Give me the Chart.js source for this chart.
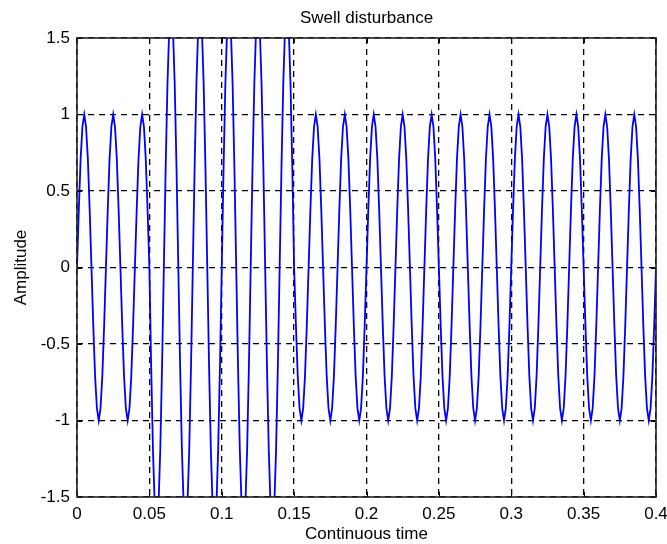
<!DOCTYPE html>
<html>
<head>
<meta charset="utf-8">
<script src="https://cdn.jsdelivr.net/npm/chart.js@4/dist/chart.umd.min.js"></script>
<style>
html,body{margin:0;padding:0;background:#fff;}
#wrap{width:667px;height:544px;}
</style>
</head>
<body>
<div id="wrap"><canvas id="c" width="667" height="544"></canvas></div>
<script>
// ---- data ----
const sampleStep = 0.00125; // seconds between samples
// normal waveform before the swell (t = 0 ... 0.04875)
const preSwell = [
  0,.38,.71,.92,1,.92,.71,.38,0,-.38,-.71,-.92,-1,-.92,-.71,-.38,
  0,.38,.71,.92,1,.92,.71,.38,0,-.38,-.71,-.92,-1,-.92,-.71,-.38,
  0,.38,.71,.92,1,.92,.71,.38
];
// swell (t = 0.05 ... 0.14875), amplitude about 1.7 (clipped by the axes)
const swell = [
  0,-.65,-1.2,-1.57,-1.7,-1.57,-1.2,-.65,
  0,.65,1.2,1.57,1.7,1.57,1.2,.65,0,-.65,-1.2,-1.57,-1.7,-1.57,-1.2,-.65,
  0,.65,1.2,1.57,1.7,1.57,1.2,.65,0,-.65,-1.2,-1.57,-1.7,-1.57,-1.2,-.65,
  0,.65,1.2,1.57,1.7,1.57,1.2,.65,0,-.65,-1.2,-1.57,-1.7,-1.57,-1.2,-.65,
  0,.65,1.2,1.57,1.7,1.57,1.2,.65,0,-.65,-1.2,-1.57,-1.7,-1.57,-1.2,-.65,
  0,.65,1.2,1.57,1.7,1.57,1.2,.65
];
// normal waveform after the swell (t = 0.15 ... 0.4)
const postSwell = [
  0,-.38,-.71,-.92,-1,-.92,-.71,-.38,
  0,.38,.71,.92,1,.92,.71,.38,0,-.38,-.71,-.92,-1,-.92,-.71,-.38,
  0,.38,.71,.92,1,.92,.71,.38,0,-.38,-.71,-.92,-1,-.92,-.71,-.38,
  0,.38,.71,.92,1,.92,.71,.38,0,-.38,-.71,-.92,-1,-.92,-.71,-.38,
  0,.38,.71,.92,1,.92,.71,.38,0,-.38,-.71,-.92,-1,-.92,-.71,-.38,
  0,.38,.71,.92,1,.92,.71,.38,0,-.38,-.71,-.92,-1,-.92,-.71,-.38,
  0,.38,.71,.92,1,.92,.71,.38,0,-.38,-.71,-.92,-1,-.92,-.71,-.38,
  0,.38,.71,.92,1,.92,.71,.38,0,-.38,-.71,-.92,-1,-.92,-.71,-.38,
  0,.38,.71,.92,1,.92,.71,.38,0,-.38,-.71,-.92,-1,-.92,-.71,-.38,
  0,.38,.71,.92,1,.92,.71,.38,0,-.38,-.71,-.92,-1,-.92,-.71,-.38,
  0,.38,.71,.92,1,.92,.71,.38,0,-.38,-.71,-.92,-1,-.92,-.71,-.38,
  0,.38,.71,.92,1,.92,.71,.38,0,-.38,-.71,-.92,-1,-.92,-.71,-.38,
  0,.38,.71,.92,1,.92,.71,.38,0,-.38,-.71,-.92,-1,-.92,-.71,-.38,
  0
];
const xTicks = [0,0.05,0.1,0.15,0.2,0.25,0.3,0.35,0.4];
const xTickLabels = ['0','0.05','0.1','0.15','0.2','0.25','0.3','0.35','0.4'];
const yTicks = [-1.5,-1,-0.5,0,0.5,1,1.5];
const yTickLabels = ['-1.5','-1','-0.5','0','0.5','1','1.5'];
const titleText = 'Swell disturbance';
const xTitle = 'Continuous time';
const yTitle = 'Amplitude';

// ---- build ----
const amplitude = preSwell.concat(swell, postSwell);
const points = amplitude.map((v, i) => ({x: i * sampleStep, y: v}));
const FONT = '"Liberation Sans", Arial, Helvetica, sans-serif';
const FS = 17;
const labelFor = (ticks, labels, v) => {
  const k = ticks.findIndex(t => Math.abs(t - v) < 1e-9);
  return k >= 0 ? labels[k] : '';
};

const boxPlugin = {
  id: 'matlabBox',
  afterDatasetsDraw(chart) {
    const {ctx, chartArea: {left, top, right, bottom}, scales: {x, y}} = chart;
    ctx.save();
    ctx.setLineDash([]);
    ctx.strokeStyle = '#000';
    ctx.lineWidth = 1;
    const tl = 5;
    ctx.beginPath();
    xTicks.forEach(v => {
      const px = Math.round(x.getPixelForValue(v)) + 0.5;
      ctx.moveTo(px, bottom); ctx.lineTo(px, bottom - tl);
      ctx.moveTo(px, top); ctx.lineTo(px, top + tl);
    });
    yTicks.forEach(v => {
      const py = Math.round(y.getPixelForValue(v)) + 0.5;
      ctx.moveTo(left, py); ctx.lineTo(left + tl, py);
      ctx.moveTo(right, py); ctx.lineTo(right - tl, py);
    });
    ctx.stroke();
    ctx.strokeStyle = '#222';
    ctx.lineWidth = 1.6;
    ctx.strokeRect(left, top, right - left, bottom - top);
    ctx.restore();
  }
};

new Chart(document.getElementById('c'), {
  type: 'line',
  data: {
    datasets: [{
      data: points,
      borderColor: '#0000ff',
      borderWidth: 1.8,
      pointRadius: 0,
      tension: 0,
      fill: false,
      clip: 0
    }]
  },
  options: {
    responsive: false,
    animation: false,
    devicePixelRatio: 1,
    layout: {padding: {left: 0, right: 11, top: 0, bottom: 0}},
    plugins: {
      legend: {display: false},
      tooltip: {enabled: false},
      title: {
        display: true, text: titleText, color: '#000', fullSize: false,
        font: {family: FONT, size: FS, weight: 'normal', lineHeight: 1.2},
        padding: {top: 8.5, bottom: 9.1}
      }
    },
    scales: {
      x: {
        type: 'linear', min: 0, max: 0.4,
        afterBuildTicks: s => { s.ticks = xTicks.map(v => ({value: v})); },
        afterFit: s => { s.height = 47; s.paddingLeft = 0; s.paddingRight = 0; },
        ticks: {
          callback: v => labelFor(xTicks, xTickLabels, v),
          color: '#000', font: {family: FONT, size: FS}, padding: 7,
          maxRotation: 0, autoSkip: false
        },
        grid: {color: '#000', lineWidth: 1.3, drawTicks: false},
        border: {display: false, dash: [6, 5]},
        title: {
          display: true, text: xTitle, color: '#000',
          font: {family: FONT, size: FS, lineHeight: 1.1},
          padding: {top: 0, bottom: 0}
        }
      },
      y: {
        type: 'linear', min: -1.5, max: 1.5,
        afterBuildTicks: s => { s.ticks = yTicks.map(v => ({value: v})); },
        afterFit: s => { s.width = 77; },
        ticks: {
          callback: v => labelFor(yTicks, yTickLabels, v),
          color: '#000', font: {family: FONT, size: FS}, padding: 7,
          autoSkip: false
        },
        grid: {color: '#000', lineWidth: 1.3, drawTicks: false},
        border: {display: false, dash: [6, 5]},
        title: {
          display: true, text: yTitle, color: '#000',
          font: {family: FONT, size: FS, lineHeight: 1.2},
          padding: {top: 11.3, bottom: 0}
        }
      }
    }
  },
  plugins: [boxPlugin]
});
</script>
</body>
</html>
